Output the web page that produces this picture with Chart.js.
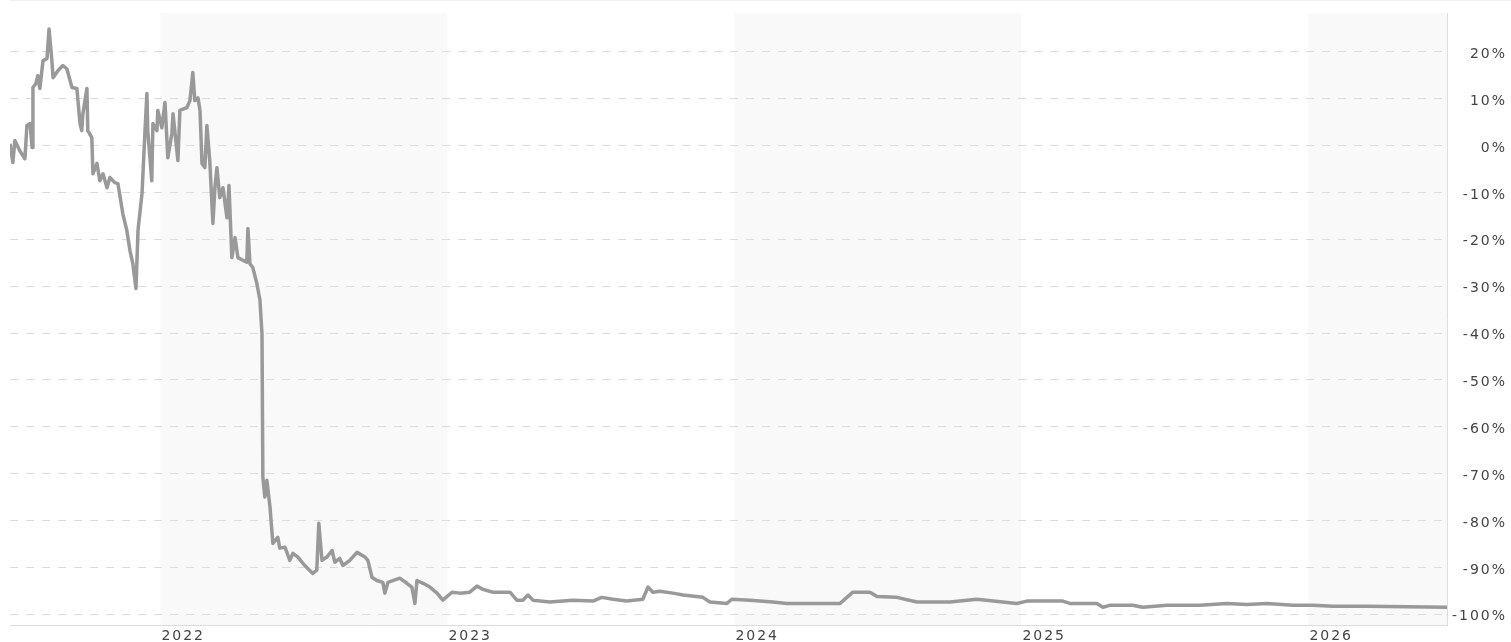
<!DOCTYPE html>
<html>
<head>
<meta charset="utf-8">
<script src="https://cdn.jsdelivr.net/npm/chart.js@4"></script>
<style>
  html, body { margin: 0; padding: 0; background: #fff; }
  #wrap { position: relative; width: 1511px; height: 642px; }
</style>
</head>
<body>
<div id="wrap"><canvas id="perfChart"></canvas></div>
<script>
// time in decimal years, change in %
let dates = [
    2021.476, 2021.486, 2021.493, 2021.510, 2021.528, 2021.535, 2021.546, 2021.553, 2021.556, 2021.566,
    2021.573, 2021.580, 2021.591, 2021.605, 2021.612, 2021.622, 2021.626, 2021.643, 2021.660, 2021.674,
    2021.692, 2021.709, 2021.720, 2021.726, 2021.730, 2021.744, 2021.747, 2021.761, 2021.765, 2021.779,
    2021.789, 2021.800, 2021.814, 2021.824, 2021.841, 2021.852, 2021.869, 2021.883, 2021.894, 2021.904,
    2021.915, 2021.922, 2021.936, 2021.946, 2021.953, 2021.956, 2021.970, 2021.974, 2021.988, 2021.991,
    2022.005, 2022.016, 2022.026, 2022.040, 2022.044, 2022.061, 2022.068, 2022.092, 2022.103, 2022.113,
    2022.120, 2022.131, 2022.138, 2022.145, 2022.155, 2022.162, 2022.172, 2022.183, 2022.190, 2022.197,
    2022.207, 2022.218, 2022.232, 2022.239, 2022.249, 2022.260, 2022.270, 2022.301, 2022.305, 2022.312,
    2022.322, 2022.336, 2022.347, 2022.350, 2022.354, 2022.357, 2022.364, 2022.371, 2022.382, 2022.392,
    2022.409, 2022.416, 2022.434, 2022.451, 2022.462, 2022.479, 2022.503, 2022.531, 2022.545, 2022.552,
    2022.563, 2022.580, 2022.598, 2022.608, 2022.625, 2022.636, 2022.660, 2022.685, 2022.713, 2022.723,
    2022.737, 2022.754, 2022.775, 2022.782, 2022.793, 2022.834, 2022.859, 2022.876, 2022.887, 2022.894,
    2022.915, 2022.939, 2022.964, 2022.984, 2023.016, 2023.044, 2023.078, 2023.103, 2023.124, 2023.159,
    2023.218, 2023.242, 2023.263, 2023.281, 2023.298, 2023.357, 2023.437, 2023.507, 2023.538, 2023.577,
    2023.625, 2023.681, 2023.699, 2023.716, 2023.740, 2023.786, 2023.821, 2023.890, 2023.915, 2023.974,
    2023.991, 2024.054, 2024.134, 2024.183, 2024.333, 2024.368, 2024.392, 2024.413, 2024.472, 2024.497,
    2024.566, 2024.636, 2024.751, 2024.845, 2024.935, 2024.984, 2025.019, 2025.144, 2025.169, 2025.263,
    2025.284, 2025.308, 2025.388, 2025.423, 2025.507, 2025.622, 2025.716, 2025.786, 2025.856, 2025.946,
    2026.016, 2026.085, 2026.204, 2026.483
];
let changes = [
    0.4, -3.6, 1.1, -1.1, -2.8, 4.3, 4.7, -0.4, 12.4, 13.2,
    14.9, 12.2, 18.1, 18.6, 24.9, 18.1, 14.5, 16.0, 17.1, 16.4,
    12.4, 12.2, 4.7, 3.2, 6.8, 12.2, 3.2, 1.7, -6.0, -3.8,
    -7.5, -6.0, -9.0, -6.8, -7.9, -8.1, -14.5, -18.1, -22.4, -25.2,
    -30.5, -18.1, -10.2, 2.6, 11.1, 3.2, -7.5, 4.7, 3.2, 7.5,
    3.8, 9.2, -2.6, 2.6, 6.8, -3.2, 7.5, 8.1, 9.6, 15.6,
    9.6, 10.2, 7.5, -3.8, -4.7, 4.3, -3.2, -16.6, -9.0, -4.7,
    -11.1, -9.0, -15.4, -8.5, -23.9, -19.6, -23.9, -24.9, -17.7, -25.2,
    -26.0, -29.4, -33.0, -36.2, -40.1, -70.8, -75.0, -71.4, -77.2, -84.9,
    -83.6, -85.9, -85.7, -88.5, -87.0, -87.8, -89.6, -91.3, -90.6, -80.6,
    -88.5, -87.8, -86.4, -88.9, -88.1, -89.6, -88.5, -86.8, -87.8, -88.5,
    -92.1, -92.8, -93.2, -95.5, -93.2, -92.3, -93.4, -94.2, -97.7, -92.8,
    -93.4, -94.2, -95.5, -97.0, -95.3, -95.5, -95.3, -94.0, -94.7, -95.3,
    -95.3, -97.0, -97.0, -95.9, -97.0, -97.4, -97.0, -97.2, -96.4, -96.8,
    -97.2, -96.8, -94.2, -95.3, -95.1, -95.5, -95.9, -96.4, -97.4, -97.7,
    -96.8, -97.0, -97.4, -97.7, -97.7, -97.7, -96.4, -95.3, -95.3, -96.2,
    -96.4, -97.4, -97.4, -96.8, -97.4, -97.7, -97.2, -97.2, -97.7, -97.7,
    -98.5, -98.1, -98.1, -98.5, -98.1, -98.1, -97.7, -97.9, -97.7, -98.1,
    -98.1, -98.3, -98.3, -98.5
];
let shadedYears = [2022, 2024, 2026];

let points = dates.map((d, i) => ({ x: d, y: changes[i] }));

// Shaded year bands + faint top rule
let yearBands = {
    id: 'yearBands',
    beforeDraw(chart) {
        let ctx = chart.ctx;
        let area = chart.chartArea;
        let xs = chart.scales.x;
        ctx.letterSpacing = '2px';   // canvas resize wipes it, so set it here
        ctx.save();
        ctx.fillStyle = '#f9f9f9';
        shadedYears.forEach(y => {
            let x0 = Math.max(xs.getPixelForValue(y), area.left);
            let x1 = Math.min(xs.getPixelForValue(y + 1), area.right);
            if (x1 > x0) ctx.fillRect(x0, area.top, x1 - x0, area.bottom - area.top);
        });
        ctx.strokeStyle = '#f0f0f0';
        ctx.lineWidth = 1;
        ctx.beginPath();
        ctx.moveTo(area.left, 0.5);
        ctx.lineTo(chart.width, 0.5);
        ctx.stroke();
        ctx.restore();
    }
};

let ctx = document.getElementById('perfChart').getContext('2d');

let perfChart = new Chart(ctx, {
    type: 'line',
    data: {
        datasets: [{
            data: points,
            borderColor: '#999999',
            borderWidth: 3.5,
            borderJoinStyle: 'round',
            pointRadius: 0,
            tension: 0,
            fill: false
        }]
    },
    options: {
        responsive: true,
        maintainAspectRatio: false,
        animation: false,
        layout: { padding: { left: 10, top: 13, right: 4, bottom: 0 } },
        plugins: {
            legend: { display: false },
            tooltip: { enabled: false }
        },
        scales: {
            x: {
                type: 'linear',
                min: 2021.476,
                max: 2026.483,
                grid: { display: false, drawTicks: false },
                border: { display: true, color: '#dddddd', width: 1 },
                ticks: {
                    stepSize: 1,
                    includeBounds: false,
                    align: 'start',
                    labelOffset: 1,
                    padding: 3,
                    maxRotation: 0,
                    color: '#444444',
                    font: { family: 'DejaVu Sans', size: 14 },
                    callback: v => Number.isInteger(v) ? String(v) : ''
                },
                afterFit: s => { s.height = 17; }
            },
            y: {
                position: 'right',
                min: -102.3,
                max: 28.3,
                grid: { color: '#dcdcdc', lineWidth: 1, drawTicks: false },
                border: { display: true, color: '#dddddd', width: 1, dash: [8, 8] },
                ticks: {
                    stepSize: 10,
                    includeBounds: false,
                    crossAlign: 'far',
                    labelOffset: 2.5,
                    color: '#444444',
                    font: { family: 'DejaVu Sans', size: 14 },
                    callback: v => v + '%'
                },
                afterFit: s => { s.width = 60; }
            }
        }
    },
    plugins: [yearBands]
});
</script>
</body>
</html>
